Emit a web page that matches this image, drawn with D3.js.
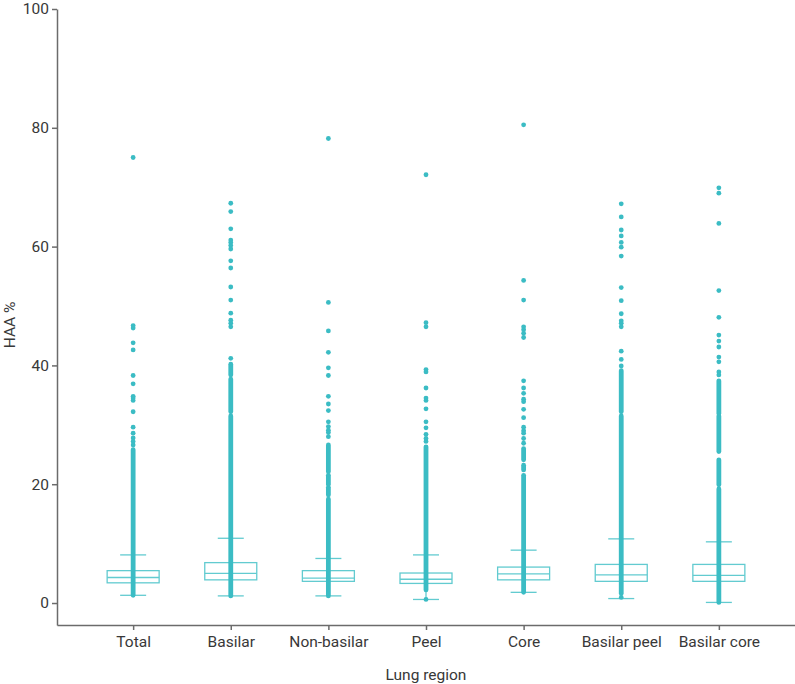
<!DOCTYPE html>
<html>
<head>
<meta charset="utf-8">
<script src="https://cdn.jsdelivr.net/npm/d3@7"></script>
<style>
  body { margin: 0; background: #fff; }
  .axis text { font-family: Roboto, "DejaVu Sans", sans-serif; font-size: 15.5px; fill: #383838; }
  .axis path, .axis line { stroke: #6b6b6b; stroke-width: 1.5; }
</style>
</head>
<body>
<div id="chart"></div>
<script>
// values (HAA %)
const regions = ["Total", "Basilar", "Non-basilar", "Peel", "Core", "Basilar peel", "Basilar core"];
const q1 =          [3.4, 3.9, 3.65, 3.3, 3.9, 3.65, 3.65];
const median =      [4.3, 5.0, 4.2, 4.0, 4.9, 4.75, 4.65];
const q3 =          [5.45, 6.8, 5.45, 5.05, 6.05, 6.5, 6.5];
const whiskerLow =  [1.3, 1.2, 1.2, 0.6, 1.8, 0.75, 0.1];
const whiskerHigh = [8.1, 10.9, 7.5, 8.1, 8.9, 10.8, 10.3];

// stretches where the points overlap into a solid column
const denseRuns = [
  [[1.3, 25.8]],
  [[1.2, 31.5], [32.2, 37.7], [38.4, 40.2]],
  [[1.2, 17.5], [18.2, 19.5], [20.0, 21.5], [22.1, 26.6]],
  [[2.2, 26.3]],
  [[1.8, 21.5], [22.4, 23.2], [24.1, 26.0]],
  [[1.6, 31.5], [32.2, 39.1]],
  [[0.1, 19.2], [19.9, 24.1], [25.5, 31.5], [31.9, 37.4]]
];

// separate points
const outliers = [
  [75.0, 46.7, 46.3, 43.8, 42.6, 38.3, 36.9, 34.8, 34.5, 34.1, 32.2, 29.6, 28.6, 27.8, 27.2, 26.6],
  [67.3, 65.9, 63.0, 61.1, 60.7, 60.2, 59.6, 57.6, 56.4, 53.2, 51.0, 48.8, 47.6, 47.1, 46.5, 41.2],
  [78.2, 50.6, 45.8, 42.2, 39.6, 38.3, 34.8, 33.5, 32.4, 30.5, 29.7, 29.1, 28.7, 28.0],
  [72.1, 47.2, 46.5, 39.3, 38.9, 36.2, 34.5, 34.1, 32.7, 30.5, 29.5, 28.4, 27.7, 27.2, 0.6],
  [80.5, 54.3, 51.0, 46.5, 46.0, 45.4, 44.7, 37.4, 36.2, 35.3, 34.3, 33.9, 32.6, 31.2, 29.6, 29.0, 28.6, 27.7, 26.9],
  [67.2, 65.0, 62.8, 61.8, 60.7, 59.9, 58.4, 53.1, 50.9, 48.7, 47.5, 47.1, 46.5, 42.4, 41.0, 39.9, 0.95],
  [69.9, 69.0, 63.9, 52.6, 48.1, 45.1, 44.1, 43.1, 41.4, 40.6, 38.9, 38.4]
];

const yTicks = [0, 20, 40, 60, 80, 100];

const width = 795, height = 684;
const dotColor = "#3bbcc4", boxColor = "#62cbd0";
const font = "Roboto, 'DejaVu Sans', sans-serif";

const svg = d3.select("#chart").append("svg")
  .attr("width", width)
  .attr("height", height);

const x = d3.scalePoint()
  .domain(regions)
  .range([57, 795])
  .padding(0.78);

const y = d3.scaleLinear()
  .domain([-3.7, 100])
  .range([625, 9]);

const boxW = 52, capW = 26;

const g = svg.append("g");

regions.forEach((r, i) => {
  const cx = x(r);
  const grp = g.append("g");

  // whiskers
  grp.append("line")
    .attr("x1", cx).attr("x2", cx)
    .attr("y1", y(whiskerLow[i])).attr("y2", y(whiskerHigh[i]))
    .attr("stroke", boxColor).attr("stroke-width", 1.3);
  [whiskerLow[i], whiskerHigh[i]].forEach(v => {
    grp.append("line")
      .attr("x1", cx - capW / 2).attr("x2", cx + capW / 2)
      .attr("y1", y(v)).attr("y2", y(v))
      .attr("stroke", boxColor).attr("stroke-width", 1.3);
  });

  // box
  grp.append("rect")
    .attr("x", cx - boxW / 2)
    .attr("y", y(q3[i]))
    .attr("width", boxW)
    .attr("height", y(q1[i]) - y(q3[i]))
    .attr("fill", "none")
    .attr("stroke", boxColor)
    .attr("stroke-width", 1.3);
  grp.append("line")
    .attr("x1", cx - boxW / 2).attr("x2", cx + boxW / 2)
    .attr("y1", y(median[i])).attr("y2", y(median[i]))
    .attr("stroke", boxColor).attr("stroke-width", 1.3);

  // dense columns of points
  grp.selectAll(".run")
    .data(denseRuns[i])
    .enter()
    .append("line")
    .attr("class", "run")
    .attr("x1", cx).attr("x2", cx)
    .attr("y1", d => y(d[0])).attr("y2", d => y(d[1]))
    .attr("stroke", dotColor)
    .attr("stroke-width", 4.8)
    .attr("stroke-linecap", "round");

  // individual points
  grp.selectAll(".pt")
    .data(outliers[i])
    .enter()
    .append("circle")
    .attr("class", "pt")
    .attr("cx", cx)
    .attr("cy", d => y(d))
    .attr("r", 2.4)
    .attr("fill", dotColor);
});

// axes
svg.append("g")
  .attr("class", "axis")
  .attr("transform", "translate(57,0)")
  .call(d3.axisLeft(y).tickValues(yTicks).tickSize(5).tickSizeOuter(0).tickPadding(3));

svg.append("g")
  .attr("class", "axis")
  .attr("transform", "translate(0,625)")
  .call(d3.axisBottom(x).tickSize(5).tickSizeOuter(0).tickPadding(6));

svg.append("text")
  .attr("transform", "translate(15,325) rotate(-90)")
  .attr("text-anchor", "middle")
  .attr("font-family", font)
  .attr("font-size", 15.5)
  .attr("fill", "#383838")
  .text("HAA %");

svg.append("text")
  .attr("x", 426)
  .attr("y", 680)
  .attr("text-anchor", "middle")
  .attr("font-family", font)
  .attr("font-size", 15.5)
  .attr("fill", "#383838")
  .text("Lung region");
</script>
</body>
</html>
